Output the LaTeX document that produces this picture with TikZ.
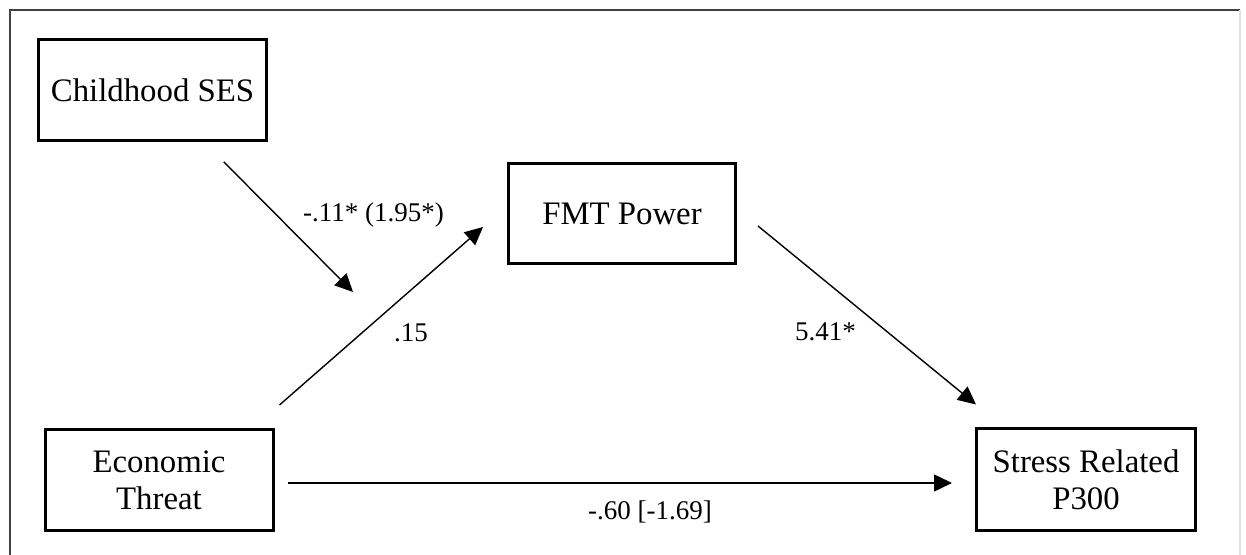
\documentclass[tikz,border=0pt]{standalone}
\usepackage{fontspec}
\setmainfont{Liberation Serif}
\usetikzlibrary{arrows.meta,positioning}

\tikzset{
  box/.style={draw, line width=1.5pt, align=center,
    font=\fontsize{16.4}{18.5}\selectfont},
  lbl/.style={font=\fontsize{13.5}{15}\selectfont, inner sep=0pt},
  arr/.style={line width=0.7pt, -{Triangle[length=9pt,width=8.5pt]}}
}

\begin{document}
\begin{tikzpicture}[x=0.5pt,y=0.5pt,on grid]
   \useasboundingbox (0,0) rectangle (1246,555);
   % outer frame
   \draw[line width=1pt, black!75] (10,0) -- (10,545) -- (1240,545);
   \draw[line width=0.6pt, black!12] (1240,545) -- (1240,0);

   \node[box, minimum width=114pt, minimum height=50.5pt] (econ) at (159,75) {Economic\\Threat};
   \node[box, minimum width=114pt, minimum height=50.5pt] (ses) [above=195pt of econ, xshift=-3.25pt] {Childhood SES};
   \node[box, minimum width=113.5pt, minimum height=50pt] (fmt) [above right=133.25pt and 231.5pt of econ] {FMT Power};
   \node[box, minimum width=109.5pt, minimum height=51pt] (p300) [right=463.5pt of econ] {Stress Related\\P300};

   \coordinate (modtip) at (353,263);

   \draw[arr, shorten <=14pt] (ses) -- (modtip);
   \draw[arr] ([shift={(5,23)}]econ.north east) -- ([shift={(-24,-13.5)}]fmt.west);
   \draw[arr] ([shift={(21,-12.5)}]fmt.east) -- ([shift={(1,23)}]p300.north west);
   \draw[arr] ([shift={(13,-3)}]econ.east) -- ([shift={(-23,-3)}]p300.west);

   \node[lbl] (lmod) at (373.5,340) {-.11* (1.95*)};
   \node[lbl] (la) at (411,222) {.15};
   \node[lbl] (lb) at (825.5,223.5) {5.41*};
   \node[lbl] (lc) at (650,43) {-.60 [-1.69]};
\end{tikzpicture}
\end{document}
